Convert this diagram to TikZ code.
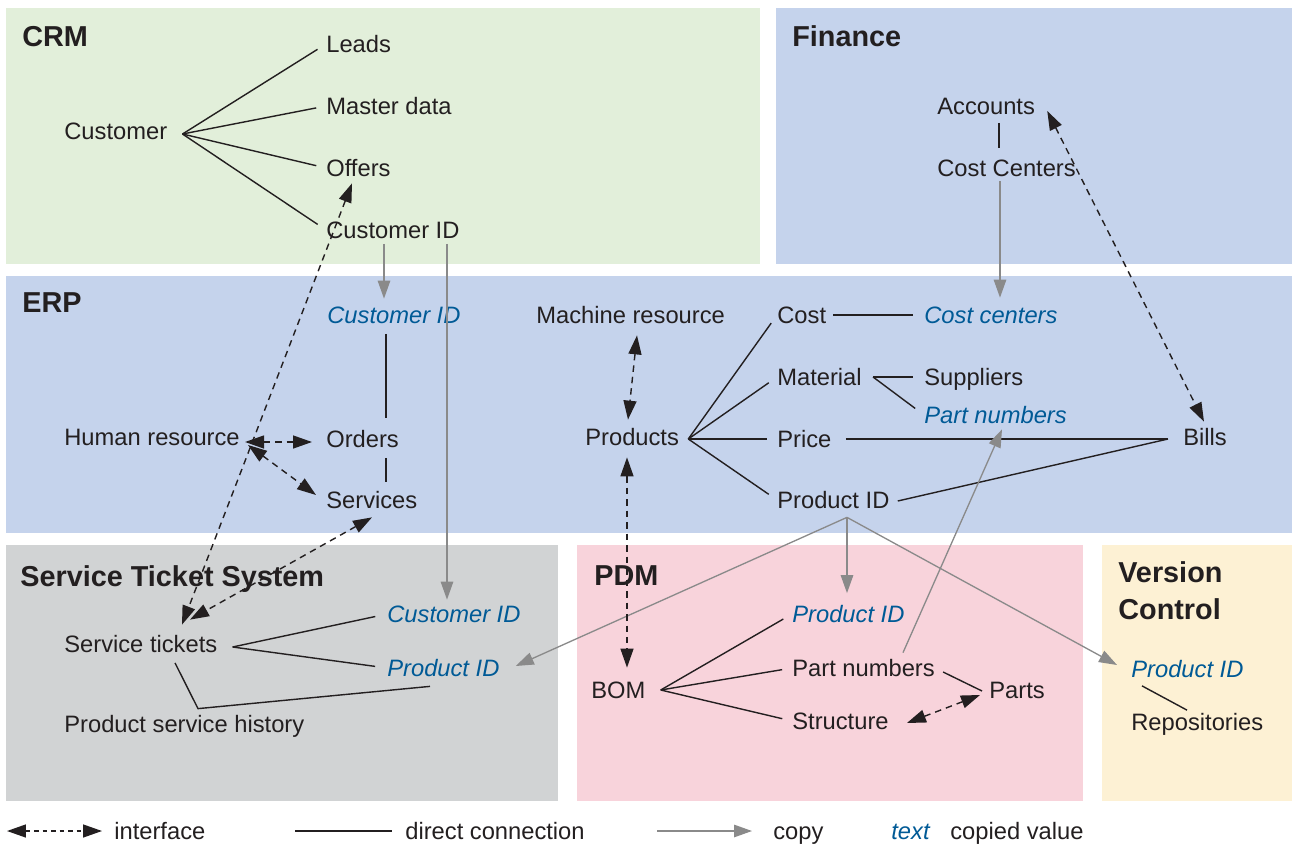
\documentclass[tikz,border=0pt]{standalone}
\usepackage{fontspec}
\setmainfont{Liberation Sans}
\usetikzlibrary{arrows.meta,calc}

\definecolor{crmfill}{HTML}{E2EFDA}
\definecolor{erpfill}{HTML}{C5D3EC}
\definecolor{stsfill}{HTML}{D1D3D4}
\definecolor{pdmfill}{HTML}{F8D3DB}
\definecolor{vcfill}{HTML}{FDF1D4}
\definecolor{ink}{HTML}{231F20}
\definecolor{copyval}{HTML}{005A96}
\definecolor{copygray}{HTML}{8A8A8A}

\tikzset{
  area/.style={fill=#1, draw=none},
  title/.style={anchor=west, inner sep=0pt, text height=11.7pt, text depth=0pt,
    font=\fontsize{16.4}{21}\selectfont\bfseries, text=ink},
  lbl/.style={anchor=west, inner sep=0pt, text height=9.7pt, text depth=0pt,
    font=\fontsize{13.5}{16}\selectfont, text=ink},
  copied/.style={lbl, text=copyval, font=\fontsize{13.5}{16}\selectfont\itshape},
  direct/.style={draw=ink, line width=0.8pt},
  copyarrow/.style={draw=copygray, line width=0.75pt,
    -{Triangle[length=0.36cm,width=0.25cm]}},
  iface/.style={draw=ink, line width=0.8pt, dash pattern=on 0.13cm off 0.1cm,
    {Triangle[length=0.38cm,width=0.26cm]}-{Triangle[length=0.38cm,width=0.26cm]}},
}

\begin{document}
\begin{tikzpicture}[x=0.02cm, y=-0.02cm]
\useasboundingbox (0,0) rectangle (1292,845);
\fill[white] (0,0) rectangle (1292,845);

% system areas
\path[area=crmfill] (6,8) rectangle (760,264);
\path[area=erpfill] (776,8) rectangle (1292,264);
\path[area=erpfill] (6,276) rectangle (1292,533);
\path[area=stsfill] (6,545) rectangle (558,801);
\path[area=pdmfill] (577,545) rectangle (1083,801);
\path[area=vcfill] (1102,545) rectangle (1292,801);

% titles
\node[title] (tcrm) at (22,36) {CRM};
\node[title] (tfin) at (792,36) {Finance};
\node[title] (terp) at (22,302) {ERP};
\node[title] (tsts) at (20,576) {Service Ticket System};
\node[title] (tpdm) at (594,575) {PDM};
\node[anchor=north west, inner sep=0pt, align=left, text=ink,
  font=\fontsize{16.4}{21}\selectfont\bfseries] (tvc) at (1118,561.5) {Version\\Control};

% CRM
\node[lbl] (cust) at (64,131) {Customer};
\node[lbl] (leads) at (326,44) {Leads};
\node[lbl] (master) at (326,106) {Master data};
\node[lbl] (offers) at (326,168) {Offers};
\node[lbl] (ccid) at (326,230) {Customer ID};

% Finance
\node[lbl] (acc) at (937,106) {Accounts};
\node[lbl] (ccf) at (937,168) {Cost Centers};

% ERP
\node[copied] (ecid) at (327,315) {Customer ID};
\node[lbl] (mach) at (536,315) {Machine resource};
\node[lbl] (cost) at (777,315) {Cost};
\node[copied] (ccen) at (924,315) {Cost centers};
\node[lbl] (mat) at (777,377) {Material};
\node[lbl] (supp) at (924,377) {Suppliers};
\node[copied] (pn) at (924,415) {Part numbers};
\node[lbl] (hr) at (64,437) {Human resource};
\node[lbl] (orders) at (326,439) {Orders};
\node[lbl] (prod) at (585,437) {Products};
\node[lbl] (price) at (777,439) {Price};
\node[lbl] (bills) at (1183,437) {Bills};
\node[lbl] (serv) at (326,500) {Services};
\node[lbl] (pid) at (777,500) {Product ID};

% Service Ticket System
\node[copied] (stcid) at (387,614) {Customer ID};
\node[lbl] (st) at (64,644) {Service tickets};
\node[copied] (stpid) at (387,668) {Product ID};
\node[lbl] (psh) at (64,724) {Product service history};

% PDM
\node[copied] (ppid) at (792,614) {Product ID};
\node[lbl] (ppn) at (792,668) {Part numbers};
\node[lbl] (bom) at (591,690) {BOM};
\node[lbl] (parts) at (989,690) {Parts};
\node[lbl] (pstr) at (792,721) {Structure};

% Version Control
\node[copied] (vpid) at (1131,669) {Product ID};
\node[lbl] (repo) at (1131,722) {Repositories};

% fan-out points
\coordinate (custO) at ($(cust.east)+(15,3)$);
\coordinate (prO) at ($(prod.east)+(9,2)$);
\coordinate (matO) at ($(mat.east)+(11,0)$);
\coordinate (stO) at ($(st.east)+(15,3)$);
\coordinate (bomO) at ($(bom.east)+(15,0)$);
\coordinate (pidO) at ($(pid.south west)+(70,8.5)$);

% direct connections
\foreach \t in {leads,master,offers,ccid}
  \draw[direct, shorten >=0.2cm] (custO) -- (\t.west);
\draw[direct] ($(acc.south west)+(62,8)$) -- ($(ccf.north west)+(62,-11)$);
\draw[direct] ($(ecid.south west)+(59,10)$) -- ($(orders.north west)+(60,-12)$);
\draw[direct] ($(orders.south west)+(60,10)$) -- ($(serv.north west)+(60,-9)$);
\foreach \t in {cost,mat,price,pid}
  \draw[direct, shorten >=0.2cm] (prO) -- (\t.west);
\draw[direct] ($(cost.east)+(7,0)$) -- ($(ccen.west)+(-11,0)$);
\draw[direct] (matO) -- ($(supp.west)+(-11,0)$);
\draw[direct, shorten >=0.22cm] (matO) -- (pn.west);
\draw[direct] ($(price.east)+(14,0)$) -- ($(bills.west)+(-15,2)$);
\draw[direct] ($(pid.east)+(8,1)$) -- ($(bills.west)+(-15,2)$);
\foreach \t in {stcid,stpid}
  \draw[direct, shorten >=0.24cm] (stO) -- (\t.west);
\draw[direct] ($(st.south west)+(111,10)$) -- ($(psh.north west)+(134,-6.5)$)
  -- ($(stpid.south west)+(43,9.5)$);
\foreach \t in {ppid,ppn,pstr}
  \draw[direct, shorten >=0.2cm] (bomO) -- (\t.west);
\draw[direct] ($(ppn.east)+(8,4)$) -- ($(parts.west)+(-7,1)$);
\draw[direct] ($(vpid.south west)+(11,8)$) -- ($(repo.north west)+(56,-3)$);

% copies
\draw[copyarrow] ($(ccid.south west)+(58,5)$) -- ($(ecid.north west)+(57,-7.5)$);
\draw[copyarrow] ($(ccid.south west)+(121,5)$) -- ($(stcid.north west)+(60,-5.5)$);
\draw[copyarrow] ($(ccf.south west)+(63,4.5)$) -- ($(ccen.north west)+(76,-8.5)$);
\draw[copyarrow] (pidO) -- ($(stpid.east)+(16,-2)$);
\draw[copyarrow] (pidO) -- ($(ppid.north west)+(55,-12)$);
\draw[copyarrow] (pidO) -- ($(vpid.west)+(-14,-4)$);
\draw[copyarrow] ($(ppn.north west)+(111,-6.5)$) -- ($(pn.south west)+(78,5.5)$);

% interfaces
\draw[iface] ($(offers.south west)+(26,6.5)$) -- ($(st.north west)+(118,-10.5)$);
\draw[iface] ($(serv.south west)+(46,8.5)$) -- ($(st.north west)+(126,-15.5)$);
\draw[iface] ($(hr.east)+(5,5)$) -- ($(orders.west)+(-14,3)$);
\draw[iface] ($(hr.east)+(8,8)$) -- ($(serv.west)+(-10,-5)$);
\draw[iface] ($(mach.south west)+(101,11.5)$) -- ($(prod.north west)+(43,-8.5)$);
\draw[iface] ($(prod.south west)+(42,11.5)$) -- ($(bom.north west)+(36,-13.5)$);
\draw[iface] ($(acc.east)+(12,5)$) -- ($(bills.north west)+(21,-6.5)$);
\draw[iface] ($(pstr.east)+(18,2)$) -- ($(parts.west)+(-9,5)$);

% legend
\node[lbl] (lint) at (114,831) {interface};
\node[lbl] (ldir) at (405,831) {direct connection};
\node[lbl] (lcopy) at (773,831) {copy};
\node[copied] (ltext) at (891,831) {text};
\node[lbl] (lval) at (950,831) {copied value};
\draw[iface, dash pattern=on 0.09cm off 0.08cm] ($(lint.west)+(-107,0)$) -- ($(lint.west)+(-12,0)$);
\draw[direct] ($(ldir.west)+(-110,0)$) -- ($(ldir.west)+(-13,0)$);
\draw[copyarrow] ($(lcopy.west)+(-116,0)$) -- ($(lcopy.west)+(-21,0)$);
\end{tikzpicture}
\end{document}
